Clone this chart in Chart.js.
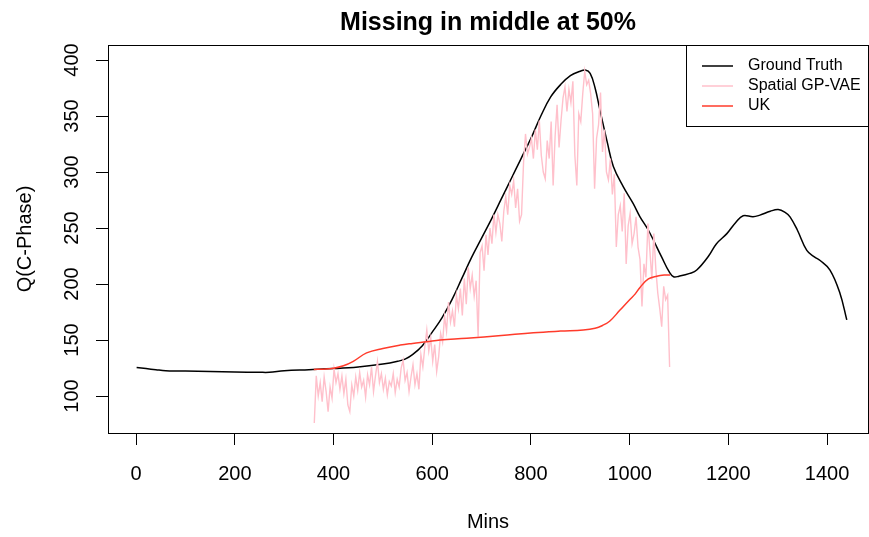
<!DOCTYPE html>
<html>
<head>
<meta charset="utf-8">
<title>Missing in middle at 50%</title>
<script src="https://cdn.jsdelivr.net/npm/chart.js@4.4.0/dist/chart.umd.min.js"></script>
<style>
  html, body { margin: 0; padding: 0; background: #fff; }
  canvas { display: block; }
</style>
</head>
<body>
<canvas id="qChart" width="869" height="537"></canvas>
<script>
// Ground truth, minute of day -> Q
const gtMins = [1, 20, 40, 60, 80, 100, 150, 200, 250, 270, 300, 350, 400, 450, 500, 530,
  545, 560, 580, 600, 620, 640, 660, 680, 700, 720, 740, 760, 780, 800, 820, 840, 860, 880,
  900, 910, 920, 930, 940, 955, 967, 987, 1007, 1021, 1038, 1065, 1080, 1089, 1100, 1122,
  1136, 1160, 1176, 1197, 1215, 1230, 1250, 1264, 1285, 1301, 1315, 1325, 1340, 1359, 1375,
  1386, 1406, 1426, 1440];
const gtVals = [125.5, 124.5, 123.5, 122.6, 122.3, 122.3, 122, 121.5, 121.2, 121.2, 122.5,
  123.5, 124.5, 126, 128.5, 131, 133, 137, 145, 157, 170, 186, 205, 224, 241, 258, 276, 294,
  312, 330, 350, 367, 378, 386, 390, 391, 388, 375, 355, 326, 305, 287, 272, 260, 248, 224,
  211, 206.5, 207, 209.5, 212.5, 225, 236, 245, 255, 261, 260, 261.5, 265, 266.5, 264, 260,
  248, 230, 224, 221, 212.5, 192, 168];

// Spatial GP-VAE imputation, one value every 4 minutes from minute 361
const vaeStart = 361;
const vaeStep = 4;
const vaeVals = [
  76, 118, 100, 112, 95, 117, 104, 86, 108, 98,
  124, 112, 120, 106, 118, 102, 115, 92, 86, 110,
  100, 117, 105, 121, 108, 114, 99, 119, 110, 126,
  104, 118, 131, 112, 120, 106, 116, 101, 113, 109,
  120, 103, 115, 108, 125, 132, 114, 121, 104, 117,
  128, 110, 120, 106, 137, 126, 144, 159, 140, 152,
  131, 146, 122, 135, 156, 148, 171, 158, 184, 166,
  176, 162, 190, 178, 196, 172, 205, 182, 215, 196,
  208, 189, 203, 153, 228, 234, 212, 244, 226, 250,
  236, 262, 246, 262, 254, 238, 265, 278, 262, 288,
  280, 292, 268, 285, 256, 262, 308, 334, 316, 322,
  330, 312, 338, 320, 346, 315, 300, 294, 328, 312,
  345, 288, 332, 360, 322, 346, 366, 376, 354, 374,
  362, 381, 315, 288, 352, 345, 370, 390, 378, 382,
  370, 352, 285, 330, 342, 371, 318, 338, 300, 293,
  312, 280, 298, 233, 262, 270, 247, 281, 218, 252,
  263, 236, 245, 260, 233, 222, 180, 218, 206, 254,
  230, 204, 245, 214, 192, 178, 162, 198, 186, 190,
  126
];

// Universal kriging
const ukMins = [360, 380, 400, 420, 440, 467, 500, 535, 560, 589, 616, 670, 740, 805, 860,
  906, 930, 945, 960, 980, 1000, 1011, 1021, 1038, 1055, 1070, 1082];
const ukVals = [123.8, 124, 124.8, 127, 131, 138.5, 142.5, 145.5, 147, 148.5, 150, 151.5,
  154, 156.5, 158, 159, 160.5, 163, 167, 176.5, 186, 191, 197, 204.5, 207, 208, 208];

const xTicks = [0, 200, 400, 600, 800, 1000, 1200, 1400];
const yTicks = [100, 150, 200, 250, 300, 350, 400];

const FONT = '"Liberation Sans", Arial, Helvetica, sans-serif';
Chart.defaults.font.family = FONT;
Chart.defaults.color = '#000';

const pairs = (xs, ys) => xs.map((x, i) => ({ x, y: ys[i] }));
const vaePoints = vaeVals.map((y, i) => ({ x: vaeStart + i * vaeStep, y }));

// frame, rotated y labels and the boxed legend
const overlay = {
  id: 'overlay',
  afterDraw(chart) {
    const { ctx, chartArea: a, scales } = chart;
    ctx.save();
    ctx.strokeStyle = '#000';
    ctx.lineWidth = 1;
    ctx.strokeRect(Math.round(a.left) + 0.5, Math.round(a.top) + 0.5,
      Math.round(a.right - a.left), Math.round(a.bottom - a.top));

    ctx.fillStyle = '#000';
    ctx.font = '20px ' + FONT;
    ctx.textAlign = 'center';
    ctx.textBaseline = 'middle';
    const lx = scales.y.right - 36;
    yTicks.forEach(v => {
      const y = scales.y.getPixelForValue(v);
      ctx.save();
      ctx.translate(lx, y);
      ctx.rotate(-Math.PI / 2);
      ctx.fillText(String(v), 0, 0);
      ctx.restore();
    });

    const bw = 182, bh = 81;
    const bx = Math.round(a.right) - bw, by = Math.round(a.top);
    ctx.fillStyle = '#fff';
    ctx.fillRect(bx, by, bw, bh);
    ctx.strokeRect(bx + 0.5, by + 0.5, bw, bh);
    ctx.font = '16px ' + FONT;
    ctx.textAlign = 'left';
    chart.data.datasets.forEach((ds, i) => {
      const y = by + 21 + i * 20;
      ctx.strokeStyle = ds.borderColor;
      ctx.lineWidth = 1.5;
      ctx.beginPath();
      ctx.moveTo(bx + 16, y);
      ctx.lineTo(bx + 47, y);
      ctx.stroke();
      ctx.fillStyle = '#000';
      ctx.fillText(ds.label, bx + 62, y);
    });
    ctx.restore();
  }
};

new Chart(document.getElementById('qChart'), {
  type: 'line',
  data: {
    datasets: [
      {
        label: 'Ground Truth',
        data: pairs(gtMins, gtVals),
        borderColor: '#000000',
        borderWidth: 1.5,
        tension: 0.4,
        pointRadius: 0,
        order: 3
      },
      {
        label: 'Spatial GP-VAE',
        data: vaePoints,
        borderColor: '#ffc0cb',
        borderWidth: 1.4,
        tension: 0,
        pointRadius: 0,
        order: 2
      },
      {
        label: 'UK',
        data: pairs(ukMins, ukVals),
        borderColor: '#ff3b2b',
        borderWidth: 1.5,
        tension: 0.4,
        pointRadius: 0,
        order: 1
      }
    ]
  },
  options: {
    responsive: false,
    animation: false,
    devicePixelRatio: 1,
    layout: { padding: { left: 0, right: 1, top: 0, bottom: 0 } },
    plugins: {
      legend: { display: false },
      tooltip: { enabled: false },
      title: {
        display: true,
        text: 'Missing in middle at 50%',
        fullSize: false,
        color: '#000',
        font: { size: 25, weight: 'bold' },
        padding: { top: 8, bottom: 7 }
      }
    },
    scales: {
      x: {
        type: 'linear',
        min: -57,
        max: 1483,
        afterBuildTicks: s => { s.ticks = xTicks.map(v => ({ value: v })); },
        afterFit: s => { s.height = 104; },
        grid: { drawOnChartArea: false, drawTicks: true, tickLength: 12, color: '#000' },
        border: { display: false },
        ticks: {
          font: { size: 20 }, padding: 17, maxRotation: 0, autoSkip: false, color: '#000',
          callback: v => String(v)
        },
        title: { display: true, text: 'Mins', font: { size: 20 }, padding: { top: 0, bottom: 3 } }
      },
      y: {
        min: 67,
        max: 413.4,
        afterBuildTicks: s => { s.ticks = yTicks.map(v => ({ value: v })); },
        afterFit: s => { s.width = 108; },
        grid: { drawOnChartArea: false, drawTicks: true, tickLength: 12, color: '#000' },
        border: { display: false },
        ticks: { display: false },
        title: { display: true, text: 'Q(C-Phase)', font: { size: 20 }, padding: { top: 13 } }
      }
    }
  },
  plugins: [overlay]
});
</script>
</body>
</html>
